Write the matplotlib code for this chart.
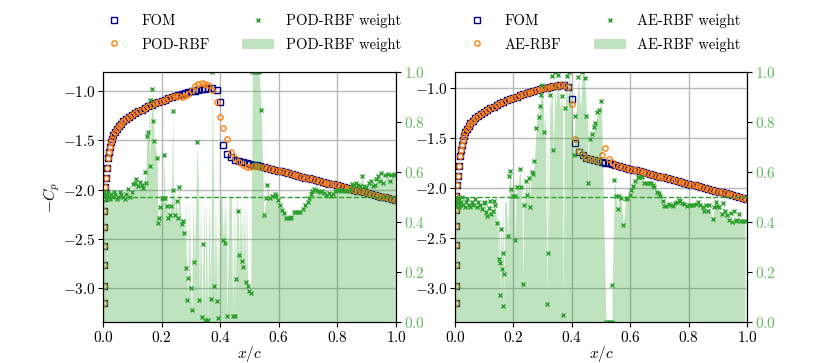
import numpy as np
import matplotlib
matplotlib.use("Agg")
import matplotlib.pyplot as plt
from matplotlib.lines import Line2D
from matplotlib.patches import Patch

plt.rcParams['font.family'] = 'serif'
plt.rcParams['font.serif'] = ['cmr10']
plt.rcParams['mathtext.fontset'] = 'cm'
plt.rcParams['axes.formatter.use_mathtext'] = True

# chordwise stations (upper surface, plus the stagnation points at the leading edge)
x_cp = [0.004, 0.004, 0.004, 0.004, 0.004, 0.004, 0.004,
        0.006, 0.009, 0.0125, 0.016, 0.019, 0.023, 0.026, 0.031, 0.035, 0.041,
        0.047, 0.053, 0.060, 0.069, 0.078, 0.088, 0.098, 0.109, 0.121, 0.132,
        0.143, 0.155, 0.166, 0.177, 0.189, 0.200, 0.212, 0.223, 0.234, 0.246,
        0.257, 0.268, 0.280, 0.291, 0.303, 0.314, 0.325, 0.337, 0.348, 0.360,
        0.373, 0.388, 0.399, 0.411, 0.423, 0.437, 0.450, 0.463, 0.477, 0.490,
        0.502, 0.514, 0.526, 0.537, 0.549, 0.561, 0.573, 0.585, 0.596, 0.608,
        0.620, 0.632, 0.644, 0.655, 0.667, 0.679, 0.691, 0.703, 0.714, 0.726,
        0.738, 0.750, 0.762, 0.773, 0.785, 0.797, 0.809, 0.821, 0.832, 0.844,
        0.856, 0.868, 0.880, 0.891, 0.903, 0.915, 0.927, 0.939, 0.950, 0.962,
        0.974, 0.986, 0.997]

cp_fom = [-3.15, -2.98, -2.77, -2.57, -2.38, -2.22, -2.08,
          -1.97, -1.88, -1.78, -1.68, -1.62, -1.57, -1.52, -1.48, -1.44, -1.41,
          -1.38, -1.35, -1.33, -1.30, -1.28, -1.26, -1.24, -1.22, -1.20, -1.19,
          -1.17, -1.15, -1.135, -1.12, -1.11, -1.095, -1.085, -1.07, -1.06, -1.05,
          -1.04, -1.03, -1.02, -1.01, -1.00, -0.995, -0.99, -0.98, -0.975, -0.97,
          -0.97, -0.985, -1.11, -1.55, -1.635, -1.67, -1.695, -1.71, -1.72, -1.73,
          -1.737, -1.745, -1.754, -1.762, -1.771, -1.780, -1.789, -1.798, -1.806, -1.815,
          -1.824, -1.833, -1.842, -1.850, -1.859, -1.868, -1.877, -1.886, -1.894, -1.903,
          -1.912, -1.921, -1.930, -1.938, -1.947, -1.956, -1.965, -1.974, -1.982, -1.991,
          -2.000, -2.009, -2.018, -2.026, -2.035, -2.044, -2.053, -2.062, -2.070, -2.079,
          -2.088, -2.097, -2.105]

cp_pod = [-3.15, -2.98, -2.77, -2.57, -2.38, -2.22, -2.08,
          -1.97, -1.88, -1.78, -1.68, -1.62, -1.57, -1.52, -1.48, -1.44, -1.41,
          -1.38, -1.35, -1.33, -1.30, -1.28, -1.26, -1.24, -1.22, -1.20, -1.19,
          -1.17, -1.15, -1.135, -1.12, -1.11, -1.095, -1.085, -1.07, -1.06, -1.05,
          -1.05, -1.055, -1.05, -1.03, -0.985, -0.95, -0.93, -0.92, -0.925, -0.94,
          -0.985, -1.11, -1.26, -1.37, -1.48, -1.615, -1.68, -1.72, -1.75, -1.77,
          -1.77, -1.76, -1.762, -1.766, -1.771, -1.780, -1.789, -1.798, -1.806, -1.815,
          -1.824, -1.833, -1.842, -1.850, -1.859, -1.868, -1.877, -1.886, -1.894, -1.903,
          -1.912, -1.921, -1.930, -1.938, -1.947, -1.956, -1.965, -1.974, -1.982, -1.991,
          -2.000, -2.009, -2.018, -2.026, -2.035, -2.044, -2.053, -2.062, -2.070, -2.079,
          -2.088, -2.097, -2.105]

cp_ae = [-3.15, -2.98, -2.77, -2.57, -2.38, -2.22, -2.08,
         -1.97, -1.88, -1.78, -1.68, -1.62, -1.57, -1.52, -1.48, -1.44, -1.41,
         -1.38, -1.35, -1.33, -1.30, -1.28, -1.26, -1.24, -1.22, -1.20, -1.19,
         -1.17, -1.15, -1.135, -1.12, -1.11, -1.095, -1.085, -1.07, -1.06, -1.05,
         -1.04, -1.03, -1.02, -1.01, -1.00, -0.995, -0.99, -0.98, -0.975, -0.97,
         -0.97, -0.99, -1.16, -1.505, -1.63, -1.67, -1.695, -1.71, -1.72, -1.73,
         -1.665, -1.60, -1.705, -1.735, -1.771, -1.780, -1.789, -1.798, -1.806, -1.815,
         -1.824, -1.833, -1.842, -1.850, -1.859, -1.868, -1.877, -1.886, -1.894, -1.903,
         -1.912, -1.921, -1.930, -1.938, -1.947, -1.956, -1.965, -1.974, -1.982, -1.991,
         -2.000, -2.009, -2.018, -2.026, -2.035, -2.044, -2.053, -2.062, -2.070, -2.079,
         -2.088, -2.097, -2.105]

# RBF weights at the surface nodes (both surfaces)
w_pod_x = [0.001, 0.002, 0.003, 0.005, 0.007, 0.009, 0.012, 0.015, 0.018, 0.021,
           0.025, 0.029, 0.033, 0.037, 0.042, 0.047, 0.052, 0.057, 0.062, 0.068,
           0.074, 0.080, 0.086, 0.092, 0.098, 0.104, 0.109, 0.113, 0.121, 0.126,
           0.132, 0.138, 0.143, 0.146, 0.149, 0.155, 0.160, 0.160, 0.168, 0.172,
           0.175, 0.185, 0.189, 0.192, 0.195, 0.200, 0.206, 0.208, 0.212, 0.217,
           0.223, 0.229, 0.231, 0.238, 0.240, 0.246, 0.251, 0.255, 0.259, 0.268,
           0.272, 0.276, 0.283, 0.288, 0.291, 0.299, 0.303, 0.312, 0.322, 0.329,
           0.337, 0.342, 0.348, 0.357, 0.367, 0.373, 0.380, 0.388, 0.394, 0.411,
           0.418, 0.423, 0.443, 0.449, 0.454, 0.461, 0.465, 0.473, 0.479, 0.487,
           0.494, 0.498, 0.504, 0.510, 0.518, 0.526, 0.533, 0.540, 0.549, 0.557,
           0.561, 0.569, 0.577, 0.586, 0.592, 0.597, 0.603, 0.611, 0.618, 0.626,
           0.631, 0.637, 0.643, 0.652, 0.657, 0.665, 0.674, 0.683, 0.691, 0.698,
           0.704, 0.709, 0.714, 0.720, 0.727, 0.734, 0.741, 0.747, 0.754, 0.762,
           0.770, 0.777, 0.785, 0.791, 0.797, 0.804, 0.811, 0.819, 0.827, 0.834,
           0.842, 0.850, 0.857, 0.864, 0.870, 0.877, 0.884, 0.891, 0.899, 0.907,
           0.916, 0.922, 0.927, 0.933, 0.939, 0.946, 0.950, 0.957, 0.962, 0.971,
           0.979, 0.984, 0.992, 0.997]
w_pod = [0.51, 0.50, 0.52, 0.50, 0.51, 0.49, 0.51, 0.50, 0.52, 0.50,
         0.49, 0.51, 0.50, 0.52, 0.51, 0.49, 0.50, 0.52, 0.51, 0.50,
         0.49, 0.51, 0.53, 0.50, 0.52, 0.55, 0.556, 0.573, 0.543, 0.56,
         0.547, 0.536, 0.60, 0.556, 0.743, 0.76, 0.888, 0.623, 0.933, 0.805,
         0.723, 0.656, 0.396, 0.416, 0.459, 0.496, 0.496, 0.669, 0.496, 0.465,
         0.416, 0.429, 0.463, 0.845, 0.529, 0.429, 0.485, 0.416, 0.539, 0.392,
         0.403, 0.356, 0.216, 0.087, 0.176, 0.136, 0.049, 0.239, 0.72, 0.087,
         0.019, 0.312, 0.009, 0.009, 0.093, 1.0, 0.143, 0.085, 0.016, 0.329,
         0.316, 0.023, 0.024, 0.023, 0.173, 0.443, 0.267, 0.245, 0.219, 0.159,
         0.143, 0.125, 0.116, 1.0, 1.0, 1.0, 1.0, 0.849, 0.429, 0.496,
         0.547, 0.496, 0.503, 0.512, 0.505, 0.489, 0.469, 0.449, 0.436, 0.416,
         0.416, 0.416, 0.419, 0.44, 0.44, 0.44, 0.44, 0.453, 0.467, 0.48,
         0.496, 0.512, 0.523, 0.533, 0.529, 0.523, 0.52, 0.525, 0.516, 0.509,
         0.516, 0.505, 0.512, 0.523, 0.529, 0.529, 0.525, 0.529, 0.525, 0.523,
         0.533, 0.552, 0.547, 0.556, 0.549, 0.543, 0.583, 0.543, 0.539, 0.556,
         0.563, 0.543, 0.549, 0.572, 0.583, 0.563, 0.596, 0.556, 0.589, 0.592,
         0.563, 0.589, 0.589, 0.592]

# upper edge of the shaded weight band between the marked nodes
band_pod_x = [0.186, 0.198, 0.214, 0.220, 0.226, 0.234, 0.244, 0.249, 0.262, 0.279,
              0.285, 0.295, 0.307, 0.317, 0.326, 0.333, 0.345, 0.352, 0.362, 0.370,
              0.377, 0.384, 0.391, 0.400, 0.406, 0.415, 0.420, 0.430, 0.438, 0.446,
              0.452, 0.457, 0.469, 0.476, 0.483, 0.490]
band_pod = [0.50, 0.50, 0.50, 0.49, 0.49, 0.50, 0.49, 0.50, 0.50, 0.48,
            0.50, 0.50, 0.50, 0.50, 0.50, 0.50, 0.50, 0.50, 0.50, 0.50,
            0.50, 0.50, 0.50, 0.50, 0.50, 0.50, 0.50, 0.50, 0.50, 0.50,
            0.50, 0.50, 0.50, 0.50, 0.50, 0.50]

w_ae_x = [0.001, 0.002, 0.003, 0.005, 0.007, 0.009, 0.012, 0.015, 0.018, 0.021,
          0.025, 0.029, 0.033, 0.037, 0.042, 0.047, 0.052, 0.057, 0.062, 0.068,
          0.074, 0.080, 0.086, 0.092, 0.098, 0.104, 0.107, 0.111, 0.117, 0.121,
          0.124, 0.129, 0.133, 0.138, 0.143, 0.149, 0.153, 0.155, 0.158, 0.161,
          0.166, 0.166, 0.168, 0.181, 0.186, 0.189, 0.192, 0.198, 0.204, 0.206,
          0.214, 0.223, 0.226, 0.232, 0.238, 0.242, 0.248, 0.252, 0.257, 0.263,
          0.268, 0.272, 0.278, 0.286, 0.290, 0.295, 0.299, 0.306, 0.314, 0.320,
          0.325, 0.331, 0.337, 0.342, 0.352, 0.365, 0.371, 0.377, 0.382, 0.390,
          0.407, 0.411, 0.422, 0.436, 0.445, 0.450, 0.456, 0.462, 0.470, 0.477,
          0.481, 0.488, 0.493, 0.501, 0.517, 0.524, 0.531, 0.538, 0.538, 0.546,
          0.552, 0.557, 0.561, 0.569, 0.577, 0.584, 0.589, 0.600, 0.604, 0.610,
          0.618, 0.626, 0.631, 0.640, 0.648, 0.656, 0.663, 0.671, 0.677, 0.683,
          0.691, 0.698, 0.703, 0.711, 0.717, 0.724, 0.733, 0.739, 0.745, 0.752,
          0.759, 0.766, 0.770, 0.777, 0.785, 0.793, 0.800, 0.807, 0.815, 0.825,
          0.831, 0.840, 0.848, 0.853, 0.859, 0.865, 0.870, 0.882, 0.887, 0.893,
          0.898, 0.904, 0.913, 0.918, 0.925, 0.933, 0.939, 0.944, 0.950, 0.956,
          0.961, 0.967, 0.972, 0.978, 0.986, 0.993]
w_ae = [0.49, 0.48, 0.50, 0.47, 0.49, 0.48, 0.46, 0.49, 0.47, 0.48,
        0.50, 0.47, 0.46, 0.48, 0.49, 0.47, 0.46, 0.48, 0.47, 0.49,
        0.46, 0.48, 0.47, 0.45, 0.48, 0.476, 0.44, 0.423, 0.456, 0.483,
        0.432, 0.445, 0.485, 0.467, 0.396, 0.253, 0.236, 0.107, 0.373, 0.213,
        0.276, 0.063, 0.193, 0.343, 0.583, 0.603, 0.533, 0.503, 0.503, 0.327,
        0.539, 0.613, 0.539, 0.152, 0.467, 0.565, 0.509, 0.576, 0.459, 0.60,
        0.592, 0.643, 0.776, 0.819, 0.863, 0.909, 0.949, 0.76, 0.072, 0.276,
        0.909, 0.983, 0.689, 1.0, 0.989, 0.903, 0.029, 0.856, 0.983, 1.0,
        0.667, 0.823, 0.98, 1.0, 0.976, 0.823, 0.556, 0.732, 0.752, 0.779,
        0.796, 0.84, 0.849, 0.883, 0.0, 0.0, 0.0, 0.0, 0.147, 0.569,
        0.503, 0.452, 0.503, 0.496, 0.389, 0.492, 0.496, 0.509, 0.529, 0.545,
        0.563, 0.579, 0.579, 0.579, 0.556, 0.556, 0.556, 0.556, 0.549, 0.539,
        0.52, 0.516, 0.503, 0.483, 0.465, 0.465, 0.472, 0.469, 0.465, 0.476,
        0.48, 0.489, 0.485, 0.476, 0.472, 0.463, 0.469, 0.469, 0.469, 0.472,
        0.479, 0.469, 0.459, 0.445, 0.469, 0.443, 0.467, 0.413, 0.459, 0.48,
        0.463, 0.459, 0.432, 0.476, 0.445, 0.429, 0.409, 0.436, 0.40, 0.443,
        0.403, 0.409, 0.432, 0.403, 0.405, 0.405]

band_ae_x = [0.146, 0.152, 0.157, 0.163, 0.170, 0.176, 0.202, 0.210, 0.219, 0.229,
             0.236, 0.245, 0.255, 0.260, 0.283, 0.303, 0.310, 0.318, 0.328, 0.345,
             0.360, 0.368, 0.374, 0.386, 0.400, 0.415, 0.430, 0.453, 0.460]
band_ae = [0.48, 0.48, 0.48, 0.48, 0.48, 0.48, 0.58, 0.58, 0.58, 0.58,
           0.58, 0.58, 0.58, 0.58, 0.85, 0.85, 0.85, 0.85, 0.85, 0.85,
           0.85, 0.85, 0.85, 0.85, 0.85, 0.85, 0.85, 0.85, 0.85]

GREEN = 'tab:green'
LIGHT_GREEN = '#62b862'


def draw_panel(ax, cp_rom, rom_name, wx, wv, bx, bv, ylim, ylabel=None):
    ax.plot(x_cp, cp_fom, ls='none', marker='s', ms=3.8, mfc='none', mec='navy',
            mew=1.0, label='FOM')
    ax.plot(x_cp, cp_rom, ls='none', marker='o', ms=3.8, mfc='none', mec='tab:orange',
            mew=1.0, label=rom_name)
    ax.set_xlim(0, 1)
    ax.set_ylim(*ylim)
    ax.set_xticks([0.0, 0.2, 0.4, 0.6, 0.8, 1.0])
    ax.set_yticks([-3.0, -2.5, -2.0, -1.5, -1.0])
    ax.grid(True, color='#b8b8b8', lw=1.0)
    ax.tick_params(labelsize=11, pad=2)
    ax.set_xlabel('$x/c$', fontsize=11)
    ax.xaxis.set_label_coords(0.5, -0.088)
    if ylabel:
        ax.set_ylabel(ylabel, fontsize=11.5)
        ax.yaxis.set_label_coords(-0.14, 0.5)

    ax2 = ax.twinx()
    fx = np.concatenate([wx, bx])
    fv = np.concatenate([wv, bv])
    order = np.argsort(fx, kind='stable')
    ax2.fill_between(fx[order], fv[order], color=GREEN, alpha=0.3, lw=0)
    ax2.plot(wx, wv, ls='none', marker='x', ms=2.6, mew=1.0, color=GREEN)
    ax2.axhline(0.5, color=GREEN, ls='--', lw=1.0)
    ax2.set_ylim(0, 1)
    ax2.set_yticks([0.0, 0.2, 0.4, 0.6, 0.8, 1.0])
    ax2.tick_params(labelsize=11, pad=2, labelcolor=LIGHT_GREEN)

    handles = [
        Line2D([], [], ls='none', marker='s', ms=3.8, mfc='none', mec='navy', mew=1.0),
        Line2D([], [], ls='none', marker='o', ms=3.8, mfc='none', mec='tab:orange', mew=1.0),
        Line2D([], [], ls='none', marker='x', ms=2.6, mew=1.0, color=GREEN),
        Patch(facecolor=GREEN, alpha=0.3, lw=0),
    ]
    labels = ['FOM', rom_name, rom_name + ' weight', rom_name + ' weight']
    ax2.legend(handles, labels, ncol=2, loc='lower center', bbox_to_anchor=(0.5, 1.028),
               frameon=False, fontsize=10.5, handlelength=2.2, columnspacing=2.2,
               labelspacing=0.65)
    return ax2


fig = plt.figure(figsize=(8.3, 3.63), dpi=100)
ax_l = fig.add_axes([103 / 830, 41 / 363, 293 / 830, 250 / 363])
ax_r = fig.add_axes([455 / 830, 41 / 363, 292 / 830, 250 / 363])

draw_panel(ax_l, cp_pod, 'POD-RBF', w_pod_x, w_pod, band_pod_x, band_pod,
           (-3.345, -0.804), ylabel='$-C_p$')
draw_panel(ax_r, cp_ae, 'AE-RBF', w_ae_x, w_ae, band_ae_x, band_ae,
           (-3.34, -0.84))

fig.savefig('out.png', dpi=100)
